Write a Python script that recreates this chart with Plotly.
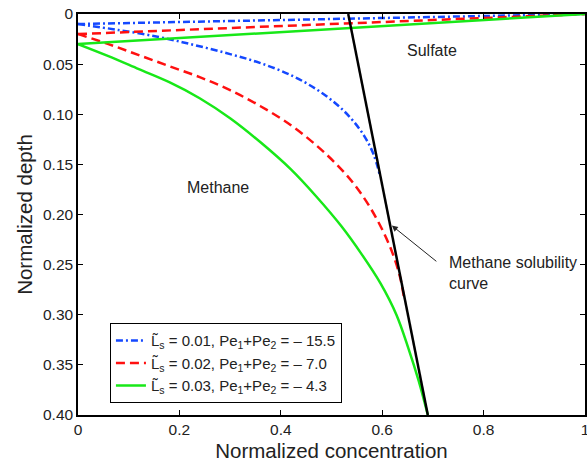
import plotly.graph_objects as go

# Methane profiles (normalized concentration, normalized depth)
blue_ch4_x = [0.0, 0.08, 0.16, 0.23, 0.30, 0.36, 0.42, 0.47, 0.51, 0.54, 0.565, 0.583, 0.595]
blue_ch4_y = [0.010, 0.016, 0.023, 0.031, 0.040, 0.049, 0.061, 0.075, 0.090, 0.105, 0.122, 0.140, 0.160]

red_ch4_x = [0.0, 0.06, 0.12, 0.18, 0.24, 0.30, 0.36, 0.42, 0.47, 0.51, 0.545, 0.575,
             0.60, 0.62, 0.635, 0.643]
red_ch4_y = [0.020, 0.030, 0.041, 0.052, 0.063, 0.076, 0.092, 0.111, 0.131, 0.150, 0.170, 0.192,
             0.215, 0.238, 0.262, 0.283]

green_ch4_x = [0.0, 0.06, 0.12, 0.18, 0.24, 0.30, 0.36, 0.42, 0.47, 0.52, 0.56, 0.597,
               0.628, 0.652, 0.672, 0.690]
green_ch4_y = [0.030, 0.042, 0.055, 0.068, 0.084, 0.104, 0.128, 0.155, 0.182, 0.212, 0.240, 0.269,
               0.300, 0.334, 0.366, 0.400]

# Sulfate profiles
sulfate_x = [0.0, 1.0]
blue_so4_y = [0.010, 0.0]
red_so4_y = [0.020, 0.0]
green_so4_y = [0.030, 0.0]

# Methane solubility curve
sol_x = [0.533, 0.690]
sol_y = [0.0, 0.400]

legend_names = [
    "L\u0303<sub>s</sub> = 0.01, Pe<sub>1</sub>+Pe<sub>2</sub> = \u2013 15.5",
    "L\u0303<sub>s</sub> = 0.02, Pe<sub>1</sub>+Pe<sub>2</sub> = \u2013 7.0",
    "L\u0303<sub>s</sub> = 0.03, Pe<sub>1</sub>+Pe<sub>2</sub> = \u2013 4.3",
]

x_ticks = [0, 0.2, 0.4, 0.6, 0.8, 1.0]
x_ticktext = ["0", "0.2", "0.4", "0.6", "0.8", "1"]
y_ticks = [0, 0.05, 0.10, 0.15, 0.20, 0.25, 0.30, 0.35, 0.40]
y_ticktext = ["0", "0.05", "0.10", "0.15", "0.20", "0.25", "0.30", "0.35", "0.40"]

BLUE = "#1448ff"
RED = "#ff1010"
GREEN = "#18e818"
FONT = "Liberation Sans, Arial, sans-serif"
TXT = "#222222"

styles = [
    (BLUE, "7px,3px,2px,3px"),
    (RED, "9px,5px"),
    (GREEN, "solid"),
]

fig = go.Figure()

for (xs, ys, so4, name, (col, dash)) in zip(
    [blue_ch4_x, red_ch4_x, green_ch4_x],
    [blue_ch4_y, red_ch4_y, green_ch4_y],
    [blue_so4_y, red_so4_y, green_so4_y],
    legend_names,
    styles,
):
    fig.add_trace(go.Scatter(x=sulfate_x, y=so4, mode="lines", showlegend=False,
                             line=dict(color=col, width=2.5, dash=dash)))
    fig.add_trace(go.Scatter(x=xs, y=ys, mode="lines", name=name,
                             line=dict(color=col, width=2.5, dash=dash, shape="spline",
                                       smoothing=1.0)))

fig.add_trace(go.Scatter(x=sol_x, y=sol_y, mode="lines", showlegend=False,
                         line=dict(color="black", width=2.5)))

fig.add_annotation(x=0.698, y=0.036, text="Sulfate", showarrow=False,
                   font=dict(size=16, color=TXT, family=FONT))
fig.add_annotation(x=0.276, y=0.173, text="Methane", showarrow=False,
                   font=dict(size=16, color=TXT, family=FONT))
fig.add_annotation(x=0.728, y=0.258, text="Methane solubility<br>curve", showarrow=False,
                   xanchor="left", yanchor="middle", align="left",
                   font=dict(size=16, color=TXT, family=FONT))
fig.add_annotation(x=0.619, y=0.211, text="", showarrow=True, axref="pixel", ayref="pixel",
                   ax=46, ay=37, arrowhead=2, arrowsize=1.2, arrowwidth=1,
                   arrowcolor="#222222")

axis_common = dict(
    showline=True, linecolor="black", linewidth=1.5, mirror="ticks",
    ticks="inside", ticklen=5, tickcolor="black", tickwidth=1,
    showgrid=False, zeroline=False, ticklabeloverflow="allow",
    tickfont=dict(size=15.5, color=TXT, family=FONT),
)

fig.update_layout(
    width=587, height=469,
    margin=dict(l=78, r=2, t=14, b=54),
    paper_bgcolor="white", plot_bgcolor="white",
    xaxis=dict(range=[0, 1], tickvals=x_ticks, ticktext=x_ticktext,
               title=dict(text="Normalized concentration", standoff=6,
                          font=dict(size=20.5, color=TXT, family=FONT)),
               automargin=False, **axis_common),
    yaxis=dict(range=[0.4, 0], tickvals=y_ticks, ticktext=y_ticktext,
               title=dict(text="Normalized depth", standoff=5,
                          font=dict(size=20.5, color=TXT, family=FONT)),
               automargin=False, **axis_common),
    legend=dict(x=0.063, y=0.229, xanchor="left", yanchor="top",
                bgcolor="white", bordercolor="black", borderwidth=1,
                font=dict(size=15, color=TXT, family=FONT),
                itemwidth=30, tracegroupgap=0),
    showlegend=True,
)

fig.write_html("out.html")
